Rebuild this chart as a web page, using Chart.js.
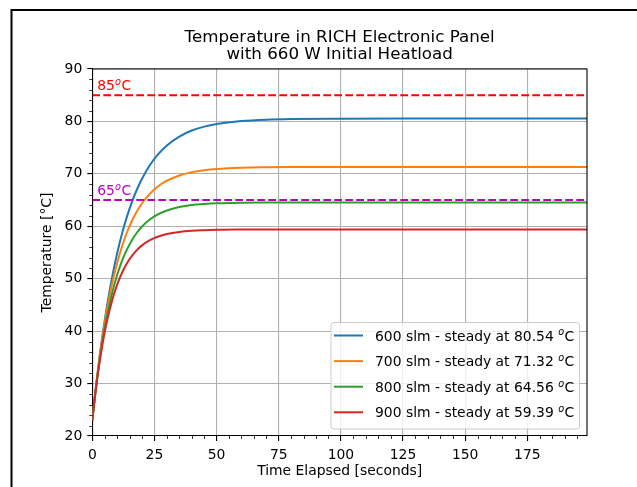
<!DOCTYPE html>
<html>
<head>
<meta charset="utf-8">
<script src="https://cdn.jsdelivr.net/npm/chart.js@4.4.0/dist/chart.umd.min.js"></script>
<style>
  body { margin: 0; background: #fff; }
  canvas { display: block; }
</style>
</head>
<body>
<canvas id="chart" width="637" height="487"></canvas>
<script>
// values
const times = [0, 1, 2, 3, 4, 5, 6, 8, 10, 12, 14, 16, 18, 20, 23, 26, 30, 35, 40, 45, 50, 60, 70, 80, 100, 125, 150, 175, 199];
const temp600 = [23.00, 27.46, 31.57, 35.37, 38.87, 42.09, 45.07, 50.35, 54.85, 58.68, 61.93, 64.70, 67.06, 69.07, 71.54, 73.47, 75.42, 77.12, 78.26, 79.01, 79.52, 80.08, 80.34, 80.45, 80.52, 80.54, 80.54, 80.54, 80.54];
const temp700 = [23.00, 27.47, 31.53, 35.21, 38.55, 41.58, 44.33, 49.10, 53.02, 56.25, 58.91, 61.10, 62.90, 64.39, 66.14, 67.45, 68.70, 69.70, 70.33, 70.71, 70.94, 71.18, 71.27, 71.30, 71.32, 71.32, 71.32, 71.32, 71.32];
const temp800 = [23.00, 27.33, 31.20, 34.67, 37.78, 40.57, 43.06, 47.31, 50.71, 53.44, 55.64, 57.40, 58.81, 59.95, 61.24, 62.17, 63.02, 63.67, 64.05, 64.26, 64.39, 64.50, 64.54, 64.56, 64.56, 64.56, 64.56, 64.56, 64.56];
const temp900 = [23.00, 27.25, 31.01, 34.32, 37.25, 39.83, 42.12, 45.92, 48.88, 51.19, 53.00, 54.40, 55.50, 56.36, 57.30, 57.95, 58.51, 58.92, 59.14, 59.25, 59.32, 59.37, 59.39, 59.39, 59.39, 59.39, 59.39, 59.39, 59.39];
const seriesNames = ['600 slm', '700 slm', '800 slm', '900 slm'];
const steadyTemps = ['80.54', '71.32', '64.56', '59.39'];
const limits = [85, 65];
const limitLabels = ['85', '65'];
const xRange = [0, 199];
const yRange = [20, 90];
const xTicks = [0, 25, 50, 75, 100, 125, 150, 175];
const yTicks = [20, 30, 40, 50, 60, 70, 80, 90];
const xMinor = [5, 10, 15, 20, 30, 35, 40, 45, 55, 60, 65, 70, 80, 85, 90, 95, 105, 110, 115, 120, 130, 135, 140, 145, 155, 160, 165, 170, 180, 185, 190, 195];
const yMinor = [22, 24, 26, 28, 32, 34, 36, 38, 42, 44, 46, 48, 52, 54, 56, 58, 62, 64, 66, 68, 72, 74, 76, 78, 82, 84, 86, 88];

const colors = ['#1f77b4', '#ff7f0e', '#2ca02c', '#d62728'];
const limitColors = ['#ff0000', '#bf00bf'];
const FONT = '"DejaVu Sans", sans-serif';

const pts = (ys) => times.map((t, i) => ({x: t, y: ys[i]}));
const flat = (v) => [{x: xRange[0], y: v}, {x: xRange[1], y: v}];

const datasets = [temp600, temp700, temp800, temp900].map((ys, i) => ({
  label: seriesNames[i],
  data: pts(ys),
  borderColor: colors[i],
  borderWidth: 2,
  pointRadius: 0,
  cubicInterpolationMode: 'monotone',
  order: 4 - i
}));
limits.forEach((v, i) => datasets.push({
  label: 'limit' + v,
  data: flat(v),
  borderColor: limitColors[i],
  borderWidth: 2,
  borderDash: [7.7, 3.3],
  pointRadius: 0,
  order: 0
}));

// draws the superscript o the way mathtext does: "85" + ^o + "C"
function degText(ctx, x, y, before, size, color) {
  ctx.fillStyle = color;
  ctx.textAlign = 'left';
  ctx.textBaseline = 'alphabetic';
  ctx.font = size + 'px ' + FONT;
  ctx.fillText(before, x, y);
  x += ctx.measureText(before).width;
  ctx.font = 'italic ' + (size * 0.7) + 'px ' + FONT;
  ctx.fillText('o', x, y - size * 0.36);
  x += ctx.measureText('o').width + 0.5;
  ctx.font = size + 'px ' + FONT;
  ctx.fillText('C', x, y);
}

const extras = {
  id: 'extras',
  afterDraw(chart) {
    const ctx = chart.ctx;
    const a = chart.chartArea;
    const xs = chart.scales.x, ys = chart.scales.y;
    ctx.save();

    // figure frame
    ctx.strokeStyle = '#000';
    ctx.lineWidth = 2;
    ctx.beginPath();
    ctx.moveTo(11.5, 490);
    ctx.lineTo(11.5, 10);
    ctx.lineTo(640, 10);
    ctx.stroke();

    // top and right spines
    ctx.lineWidth = 1.1;
    ctx.beginPath();
    ctx.moveTo(a.left, a.top);
    ctx.lineTo(a.right, a.top);
    ctx.lineTo(a.right, a.bottom);
    ctx.stroke();

    // minor ticks
    ctx.lineWidth = 0.8;
    ctx.beginPath();
    xMinor.forEach(v => {
      const px = Math.round(xs.getPixelForValue(v)) + 0.5;
      ctx.moveTo(px, a.bottom);
      ctx.lineTo(px, a.bottom + 3);
    });
    yMinor.forEach(v => {
      const py = Math.round(ys.getPixelForValue(v)) + 0.5;
      ctx.moveTo(a.left, py);
      ctx.lineTo(a.left - 3, py);
    });
    ctx.stroke();

    // limit labels
    limits.forEach((v, i) => {
      degText(ctx, xs.getPixelForValue(2), ys.getPixelForValue(v + 1), limitLabels[i], 13.9, limitColors[i]);
    });

    // title
    ctx.fillStyle = '#000';
    ctx.font = '16.7px ' + FONT;
    ctx.textAlign = 'center';
    ctx.textBaseline = 'middle';
    const cx = (a.left + a.right) / 2;
    ctx.fillText('Temperature in RICH Electronic Panel', cx, 38);
    ctx.fillText('with 660 W Initial Heatload', cx, 54.5);

    // axis titles
    ctx.font = '13.9px ' + FONT;
    ctx.fillText('Time Elapsed [seconds]', cx, 471.5);
    ctx.save();
    ctx.translate(47, (a.top + a.bottom) / 2);
    ctx.rotate(-Math.PI / 2);
    ctx.fillText('Temperature [°C]', 0, 0);
    ctx.restore();

    // legend
    const lx = 331, ly = 322.5, lw = 248.5, lh = 106.5;
    ctx.fillStyle = 'rgba(255,255,255,0.8)';
    ctx.strokeStyle = '#cccccc';
    ctx.lineWidth = 1;
    ctx.beginPath();
    ctx.roundRect(lx, ly, lw, lh, 3);
    ctx.fill();
    ctx.stroke();
    seriesNames.forEach((name, i) => {
      const ry = 335.5 + i * 25.6;
      ctx.strokeStyle = colors[i];
      ctx.lineWidth = 2;
      ctx.beginPath();
      ctx.moveTo(334, ry);
      ctx.lineTo(363, ry);
      ctx.stroke();
      degText(ctx, 375, ry + 5, name + ' - steady at ' + steadyTemps[i] + ' ', 13.9, '#000');
    });

    ctx.restore();
  }
};

new Chart(document.getElementById('chart'), {
  type: 'line',
  data: {datasets},
  options: {
    responsive: false,
    animation: false,
    devicePixelRatio: 1,
    layout: {padding: {left: 0, top: 69, right: 50, bottom: 0}},
    plugins: {legend: {display: false}, tooltip: {enabled: false}, title: {display: false}},
    scales: {
      x: {
        type: 'linear',
        min: xRange[0],
        max: xRange[1],
        afterBuildTicks: s => { s.ticks = xTicks.map(v => ({value: v})); },
        afterFit: s => { s.height = 51; },
        grid: {color: '#b0b0b0', lineWidth: 1.1, tickColor: '#000', tickLength: 5, tickWidth: 1.1},
        border: {display: true, color: '#000', width: 1.1},
        ticks: {color: '#000', font: {family: FONT, size: 13.9}, padding: 6, maxRotation: 0}
      },
      y: {
        type: 'linear',
        min: yRange[0],
        max: yRange[1],
        afterBuildTicks: s => { s.ticks = yTicks.map(v => ({value: v})); },
        afterFit: s => { s.width = 92.3; },
        grid: {color: '#b0b0b0', lineWidth: 1.1, tickColor: '#000', tickLength: 5, tickWidth: 1.1},
        border: {display: true, color: '#000', width: 1.1},
        ticks: {color: '#000', font: {family: FONT, size: 13.9}, padding: 5}
      }
    }
  },
  plugins: [extras]
});
</script>
</body>
</html>
